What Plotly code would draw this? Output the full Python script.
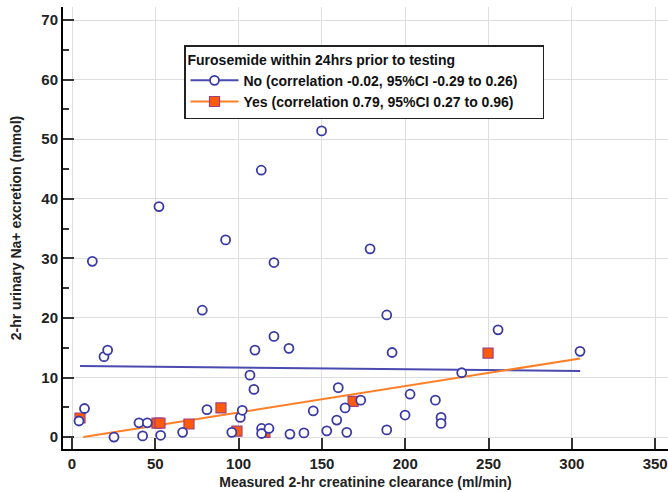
import plotly.graph_objects as go

# ---- data ----
no_x = [4.2, 7.5, 12.2, 19.2, 21.4, 25.2, 40.2, 42.4, 45.2, 52.2, 53.2, 66.4, 78.2, 81.0,
        92.2, 95.9, 101.0, 102.2, 106.8, 109.2, 109.8, 113.6, 113.8, 113.8, 118.2, 121.2,
        121.2, 130.2, 130.8, 139.2, 144.8, 149.8, 152.9, 158.9, 159.8, 163.9, 164.9, 173.3,
        178.9, 188.9, 188.9, 192.1, 199.9, 202.9, 218.1, 221.5, 221.5, 233.9, 255.7, 304.9]
no_y = [2.7, 4.8, 29.5, 13.5, 14.6, 0.0, 2.4, 0.2, 2.4, 38.7, 0.3, 0.8, 21.3, 4.6,
        33.1, 0.8, 3.3, 4.5, 10.4, 8.0, 14.6, 44.8, 1.45, 0.6, 1.45, 29.3,
        16.9, 14.9, 0.5, 0.7, 4.4, 51.4, 1.05, 2.85, 8.3, 4.9, 0.8, 6.2,
        31.6, 20.5, 1.2, 14.2, 3.7, 7.2, 6.2, 3.3, 2.3, 10.8, 18.0, 14.4]

yes_x = [4.8, 51.0, 52.8, 70.2, 89.4, 99.0, 115.8, 168.7, 249.7]
yes_y = [3.2, 2.35, 2.35, 2.2, 4.9, 1.0, 0.8, 6.0, 14.1]

# regression lines (end points)
no_fit_x = [4.8, 305.0]
no_fit_y = [11.95, 11.1]
yes_fit_x = [6.8, 305.0]
yes_fit_y = [0.0, 13.2]

legend_title = "Furosemide within 24hrs prior to testing"
no_label = "No (correlation -0.02, 95%CI -0.29 to 0.26)"
yes_label = "Yes (correlation 0.79, 95%CI 0.27 to 0.96)"

x_title = "Measured 2-hr creatinine clearance (ml/min)"
y_title = "2-hr urinary Na+ excretion (mmol)"

# ---- styles ----
BLUE = "#3a3aa6"
BLUE_LINE = "#4a4ab0"
ORANGE_LINE = "#ff7f27"
SQ_FILL = "#ff5a0a"
SQ_EDGE = "#a0407a"
FONT = "Liberation Sans, Arial, sans-serif"
PAD = "&nbsp;" * 5

fig = go.Figure()

fig.add_trace(go.Scatter(x=no_fit_x, y=no_fit_y, mode="lines",
                         line=dict(color=BLUE_LINE, width=2), showlegend=False, hoverinfo="skip"))
fig.add_trace(go.Scatter(x=yes_fit_x, y=yes_fit_y, mode="lines",
                         line=dict(color=ORANGE_LINE, width=2), showlegend=False, hoverinfo="skip"))

fig.add_trace(go.Scatter(x=yes_x, y=yes_y, mode="markers", showlegend=False,
                         marker=dict(symbol="square", size=10, color=SQ_FILL,
                                     line=dict(color=SQ_EDGE, width=1.2))))
fig.add_trace(go.Scatter(x=no_x, y=no_y, mode="markers", showlegend=False,
                         marker=dict(symbol="circle", size=9, color="white",
                                     line=dict(color=BLUE, width=1.8))))

# legend entries
fig.add_trace(go.Scatter(x=[None], y=[None], mode="lines+markers", name="<b>" + no_label + "</b>" + PAD,
                         legendrank=1,
                         line=dict(color=BLUE_LINE, width=2),
                         marker=dict(symbol="circle", size=9, color="white",
                                     line=dict(color=BLUE, width=1.8))))
fig.add_trace(go.Scatter(x=[None], y=[None], mode="lines+markers", name="<b>" + yes_label + "</b>" + PAD,
                         legendrank=2,
                         line=dict(color=ORANGE_LINE, width=2),
                         marker=dict(symbol="square", size=10, color=SQ_FILL,
                                     line=dict(color=SQ_EDGE, width=1.2))))

axis_common = dict(
    showline=True, linecolor="black", linewidth=2,
    ticks="inside", ticklen=11, tickwidth=1.5, tickcolor="#333333",
    showgrid=True, gridcolor="#dedede", gridwidth=1,
    zeroline=False,
    tickfont=dict(family=FONT, size=15, color="#222222", weight="bold"),
)

fig.update_xaxes(range=[-5.4, 357.7], tickmode="linear", tick0=0, dtick=50,
                 title=dict(text=x_title, standoff=6,
                            font=dict(family=FONT, size=14, color="#222222", weight="bold")),
                 **axis_common)
fig.update_yaxes(range=[-2.0, 72.2], tickmode="linear", tick0=0, dtick=10,
                 minor=dict(ticks="inside", ticklen=6, tickwidth=1.5, tickcolor="#333333",
                            dtick=5, showgrid=False),
                 title=dict(text=y_title, standoff=16,
                            font=dict(family=FONT, size=14, color="#222222", weight="bold")),
                 **axis_common)

fig.update_layout(
    width=668, height=492,
    margin=dict(l=63, r=0, t=7, b=43, autoexpand=False),
    plot_bgcolor="white", paper_bgcolor="white",
    font=dict(family=FONT, size=14, color="#111111"),
    legend=dict(
        title=dict(text="<b>" + legend_title + "</b>", side="top",
                   font=dict(family=FONT, size=14, color="#111111")),
        x=0.2, y=0.914, xanchor="left", yanchor="top",
        bordercolor="#222222", borderwidth=1.5, bgcolor="white",
        font=dict(family=FONT, size=14, color="#111111"),
        itemwidth=48, tracegroupgap=0,
    ),
)

fig.write_html("out.html")
